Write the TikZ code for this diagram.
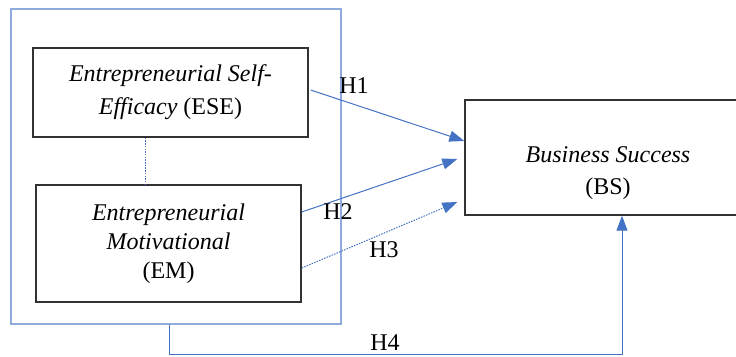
\documentclass[tikz,border=0pt]{standalone}
\usepackage{fontspec}
\setmainfont{Liberation Serif}
\usetikzlibrary{arrows.meta,calc}
\definecolor{conblue}{RGB}{68,114,196}
\definecolor{grpblue}{RGB}{143,170,220}
\definecolor{boxgray}{RGB}{50,50,50}
\tikzset{
  varbox/.style={draw=boxgray, line width=1.4pt, rectangle, inner sep=0pt, align=center},
  grpbox/.style={draw=grpblue, line width=1.1pt, rectangle, inner sep=0pt},
  conn/.style={draw=conblue, line width=1pt, -{Triangle[length=15pt,width=11pt]}},
  dotconn/.style={draw=conblue, line width=1pt, dash pattern=on 1.5pt off 1.2pt},
  hlabel/.style={font=\fontsize{24}{28}\selectfont, inner sep=0pt, text=black}
}
\begin{document}
\begin{tikzpicture}[x=1pt,y=-1pt]
\useasboundingbox (0,0) rectangle (736,356);
\clip (0,0) rectangle (736,356);
% group box
\node[grpbox, minimum width=330pt, minimum height=315pt] (grp) at (176,166.5) {};
% variable boxes
\node[varbox, minimum width=275pt, minimum height=89pt, font=\fontsize{24}{33}\selectfont] (ese) at (170.5,92.5)
  {\textit{Entrepreneurial Self-}\\\textit{Efficacy} (ESE)};
\node[varbox, minimum width=265pt, minimum height=117pt, font=\fontsize{24}{29}\selectfont] (em) at (168.5,243.5)
  {\textit{Entrepreneurial}\\\textit{Motivational}\\(EM)};
\node[varbox, minimum width=284pt, minimum height=115pt] (bs) at (607,157.5) {};
\node[inner sep=0pt, align=center, font=\fontsize{24}{32}\selectfont] (bstext) at (608,173)
  {\textit{Business Success}\\(BS)};
% connectors
\draw[dotconn] (ese.south -| 145,0) -- (em.north -| 145,0);
\draw[conn] ([xshift=2pt,yshift=2.5pt]ese.east) -- ([yshift=16.5pt]bs.west);
\draw[conn] ([yshift=31.5pt]em.east) -- ([xshift=-7pt,yshift=-1.5pt]bs.west);
\draw[conn, dash pattern=on 1.5pt off 1.2pt] ([yshift=-24.5pt]em.east) -- ([xshift=-7pt,yshift=-44.5pt]bs.west);
\draw[conn] ([xshift=-7pt]grp.south) -- ++(0,30) -| ([xshift=15pt]bs.south);
% labels
\node[hlabel] (h1) at (354,86) {H1};
\node[hlabel] (h2) at (338,212) {H2};
\node[hlabel] (h3) at (384,250) {H3};
\node[hlabel] (h4) at (385,343) {H4};
\end{tikzpicture}
\end{document}
